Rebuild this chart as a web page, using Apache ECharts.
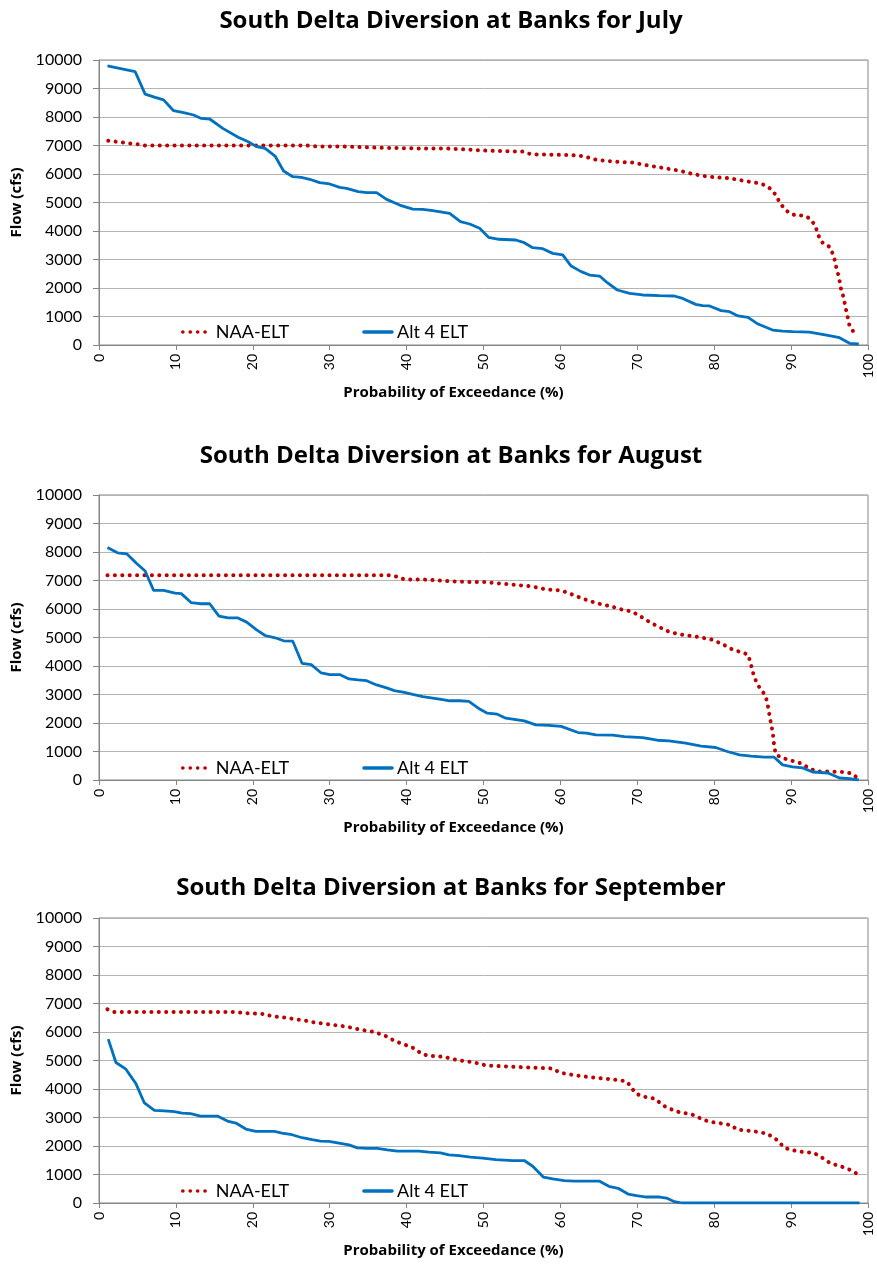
<!DOCTYPE html>
<html>
<head>
<meta charset="utf-8">
<script src="https://cdn.jsdelivr.net/npm/echarts@6/dist/echarts.min.js"></script>
<style>
  html, body { margin: 0; padding: 0; background: #fff; }
  #chart { width: 877px; height: 1265px; }
</style>
</head>
<body>
<div id="chart"></div>
<script>
// chart titles and series names
const titles = [
  'South Delta Diversion at Banks for July',
  'South Delta Diversion at Banks for August',
  'South Delta Diversion at Banks for September'
]
const seriesNames = ['NAA-ELT', 'Alt 4 ELT']

// [probability of exceedance (%), flow (cfs)]
const julyNaa = [[1.2,7170],[3.2,7100],[5.1,7040],[6.0,7000],[27,7000],[28.3,6970],[32.2,6960],[36.1,6925],[40.8,6900],[45.6,6890],[47.5,6865],[50.3,6820],[52.3,6805],[55.1,6785],[56.2,6690],[61.2,6665],[62.9,6630],[64.8,6490],[67.7,6420],[69.6,6400],[70.5,6340],[72.4,6255],[74.4,6165],[75.5,6115],[77.2,6000],[79.2,5905],[82.0,5850],[84.0,5755],[85.9,5670],[86.8,5590],[87.5,5440],[88.1,5230],[88.5,5000],[89.1,4795],[89.8,4620],[90.7,4540],[91.7,4540],[92.4,4445],[93.1,4210],[93.4,3980],[93.7,3745],[94.2,3545],[95.0,3450],[95.4,3215],[95.7,2960],[95.9,2690],[96.2,2400],[96.5,1955],[96.8,1695],[97.0,1425],[97.2,1170],[97.4,935],[97.6,665],[98.1,470],[98.6,330]]
const julyAlt = [[1.1,9790],[4.7,9590],[6.0,8805],[7.3,8690],[8.4,8600],[9.7,8220],[11.0,8150],[12.3,8070],[13.3,7950],[14.4,7930],[16.1,7600],[18.1,7290],[19.4,7130],[20.5,6960],[21.6,6900],[22.9,6630],[24.0,6105],[25.2,5905],[26.3,5885],[27.4,5815],[28.7,5695],[30.0,5650],[31.3,5530],[32.2,5495],[33.7,5380],[34.8,5345],[36.1,5345],[37.4,5110],[39.1,4910],[40.8,4770],[42.1,4760],[43.4,4715],[45.6,4620],[47.0,4330],[48.2,4245],[49.5,4095],[50.65,3780],[52.0,3710],[54.2,3685],[55.3,3590],[56.4,3415],[57.7,3380],[59.0,3215],[60.3,3160],[61.4,2770],[62.7,2575],[63.8,2455],[65.1,2420],[66.1,2185],[67.4,1930],[69.0,1815],[70.7,1755],[72.9,1730],[74.8,1720],[75.9,1635],[77.6,1425],[78.5,1380],[79.4,1370],[80.9,1205],[82.0,1170],[83.1,1020],[84.4,970],[85.7,735],[87.6,525],[88.9,490],[90.2,470],[92.4,455],[94.6,350],[96.3,255],[97.6,60],[98.8,35]]

const augNaa = [[1.1,7180],[38.0,7180],[38.9,7125],[39.7,7040],[42.6,7030],[45.5,6975],[48.0,6950],[50.3,6945],[52.3,6890],[56.2,6795],[58.1,6690],[59.9,6655],[60.7,6595],[61.8,6480],[62.7,6385],[64.6,6210],[66.4,6105],[68.1,5975],[69.2,5915],[70.0,5810],[71.6,5540],[72.4,5425],[74.2,5190],[75.9,5095],[78.1,5010],[79.8,4920],[80.7,4810],[81.6,4695],[82.4,4575],[83.5,4485],[84.4,4400],[84.7,4130],[85.1,3720],[85.5,3425],[86.0,3190],[86.6,2995],[86.9,2725],[87.2,2255],[87.4,1960],[87.6,1700],[87.8,1195],[88.0,905],[88.7,785],[89.6,715],[90.5,645],[91.4,575],[92.2,435],[93.3,295],[95.1,295],[97.0,280],[97.9,225],[98.6,80]]
const augAlt = [[1.1,8155],[2.4,7970],[3.6,7935],[4.9,7595],[6.0,7335],[7.1,6655],[8.4,6655],[9.9,6560],[10.7,6540],[12.0,6220],[13.1,6185],[14.4,6185],[15.6,5750],[16.8,5690],[18.0,5690],[19.2,5540],[20.5,5270],[21.6,5070],[22.9,4990],[24.0,4885],[25.2,4870],[26.4,4095],[27.6,4050],[28.9,3755],[30.0,3700],[31.3,3700],[32.5,3545],[33.7,3510],[34.8,3485],[36.1,3335],[37.4,3230],[38.4,3135],[39.7,3075],[40.8,3005],[42.1,2925],[43.4,2875],[44.5,2830],[45.6,2780],[46.9,2780],[48.1,2760],[49.5,2490],[50.5,2345],[51.8,2310],[52.9,2170],[55.3,2075],[56.8,1935],[58.5,1915],[60.1,1880],[62.3,1665],[63.4,1645],[64.6,1585],[66.8,1575],[68.3,1525],[70.7,1490],[72.6,1395],[74.1,1375],[76.3,1290],[78.3,1185],[80.2,1140],[81.7,1000],[83.3,880],[84.8,835],[86.5,800],[87.8,800],[88.9,530],[90.2,460],[91.5,425],[92.8,280],[94.8,245],[96.3,70],[97.6,45],[98.8,0]]

const sepNaa = [[1.1,6795],[2.0,6700],[17.6,6700],[19.5,6655],[21.5,6630],[22.4,6560],[24.3,6500],[26.2,6420],[27.1,6385],[28.2,6325],[29.9,6270],[31.6,6210],[32.7,6160],[33.8,6090],[35.8,6000],[36.6,5925],[37.5,5835],[38.4,5690],[39.9,5540],[41.0,5425],[41.9,5245],[42.8,5165],[44.8,5130],[46.7,5010],[48.2,4955],[49.4,4895],[50.3,4825],[54.2,4775],[59.0,4720],[59.9,4575],[61.8,4485],[64.6,4390],[66.6,4345],[68.6,4270],[69.2,4075],[69.7,3860],[70.6,3745],[72.3,3660],[73.2,3460],[73.9,3335],[75.6,3170],[76.7,3135],[77.8,3040],[78.4,2925],[79.9,2830],[81.2,2780],[82.3,2725],[82.9,2580],[84.9,2525],[85.8,2490],[86.9,2430],[87.6,2310],[88.4,2170],[89.0,1960],[89.9,1865],[91.6,1785],[92.8,1770],[93.6,1665],[94.4,1525],[95.2,1375],[96.2,1315],[97.0,1230],[97.9,1140],[98.7,1000]]
const sepAlt = [[1.2,5750],[2.2,4930],[3.5,4695],[4.8,4190],[5.9,3510],[7.2,3250],[8.5,3230],[9.8,3205],[10.8,3155],[11.9,3135],[13.2,3050],[15.4,3050],[16.7,2875],[17.8,2805],[19.1,2595],[20.4,2510],[22.8,2510],[23.8,2455],[25.1,2395],[26.4,2290],[27.7,2220],[28.8,2170],[29.9,2160],[31.2,2100],[32.5,2040],[33.6,1935],[34.9,1915],[36.2,1915],[37.5,1865],[38.8,1820],[41.6,1820],[42.9,1785],[44.4,1760],[45.5,1690],[46.8,1665],[48.3,1610],[49.9,1575],[51.6,1525],[53.8,1490],[55.3,1490],[56.4,1290],[57.8,905],[59.0,845],[60.5,785],[61.8,765],[65.1,765],[66.3,585],[67.5,515],[68.8,315],[69.9,260],[71.2,210],[72.9,210],[73.8,175],[74.7,60],[75.8,0],[98.9,0]]

const naaData = [julyNaa, augNaa, sepNaa]
const altData = [julyAlt, augAlt, sepAlt]

// layout of the three panels (pixels)
const panels = [
  { titleTop: 4, gridTop: 60, legendTop: 318 },
  { titleTop: 439, gridTop: 495, legendTop: 754 },
  { titleTop: 871, gridTop: 918, legendTop: 1177 }
]
const font = 'Lato, "Open Sans", sans-serif'
const boldFont = '"Open Sans", Lato, sans-serif'

function chartOption() {
  const title = [], grid = [], xAxis = [], yAxis = [], legend = [], series = []
  panels.forEach((p, i) => {
    title.push({
      text: titles[i],
      left: 446,
      textAlign: 'center',
      top: p.titleTop,
      textStyle: { fontFamily: boldFont, fontWeight: 'bold', fontSize: 24, color: '#000' }
    })
    grid.push({
      left: 99, right: 9, top: p.gridTop, height: 285,
      show: true, borderColor: '#868686', borderWidth: 1, backgroundColor: 'transparent'
    })
    xAxis.push({
      type: 'value', gridIndex: i, min: 0, max: 100, interval: 10,
      name: 'Probability of Exceedance (%)',
      nameLocation: 'middle', nameGap: 40,
      nameTextStyle: { fontFamily: boldFont, fontWeight: 'bold', fontSize: 15, color: '#000', padding: [0, 60, 0, 0] },
      axisLine: { show: true, lineStyle: { color: '#868686', width: 1 } },
      axisTick: { show: true, length: 5, lineStyle: { color: '#868686' } },
      splitLine: { show: false },
      axisLabel: { rotate: 90, margin: 9, fontFamily: font, fontSize: 14, color: '#000' }
    })
    yAxis.push({
      type: 'value', gridIndex: i, min: 0, max: 10000, interval: 1000,
      name: 'Flow (cfs)',
      nameLocation: 'middle', nameGap: 72, nameRotate: 90,
      nameTextStyle: { fontFamily: boldFont, fontWeight: 'bold', fontSize: 15, color: '#000' },
      axisLine: { show: true, lineStyle: { color: '#868686', width: 1 } },
      axisTick: { show: true, length: 6, lineStyle: { color: '#868686' } },
      splitLine: { show: true, lineStyle: { color: '#b4b4b4', width: 1 } },
      axisLabel: { margin: 17, fontFamily: font, fontSize: 16, color: '#000', formatter: (v) => String(v) }
    })
    legend.push({
      left: 176, top: p.legendTop, itemGap: 73, itemWidth: 28, itemHeight: 14,
      data: seriesNames,
      itemStyle: { opacity: 0 },
      lineStyle: { width: 3.6, cap: 'round' },
      textStyle: { fontFamily: font, fontSize: 18, color: '#000' }
    })
    series.push({
      name: seriesNames[0], type: 'line', xAxisIndex: i, yAxisIndex: i,
      data: naaData[i], symbol: 'none', silent: true,
      lineStyle: { color: '#C00000', width: 4, type: [0.1, 7.3], cap: 'round' },
      itemStyle: { color: '#C00000' }
    })
    series.push({
      name: seriesNames[1], type: 'line', xAxisIndex: i, yAxisIndex: i,
      data: altData[i], symbol: 'none', silent: true,
      lineStyle: { color: '#0070C0', width: 2.8 },
      itemStyle: { color: '#0070C0' }
    })
  })
  return { animation: false, title, grid, xAxis, yAxis, legend, series }
}

const chart = echarts.init(document.getElementById('chart'))
chart.setOption(chartOption())
</script>
</body>
</html>
